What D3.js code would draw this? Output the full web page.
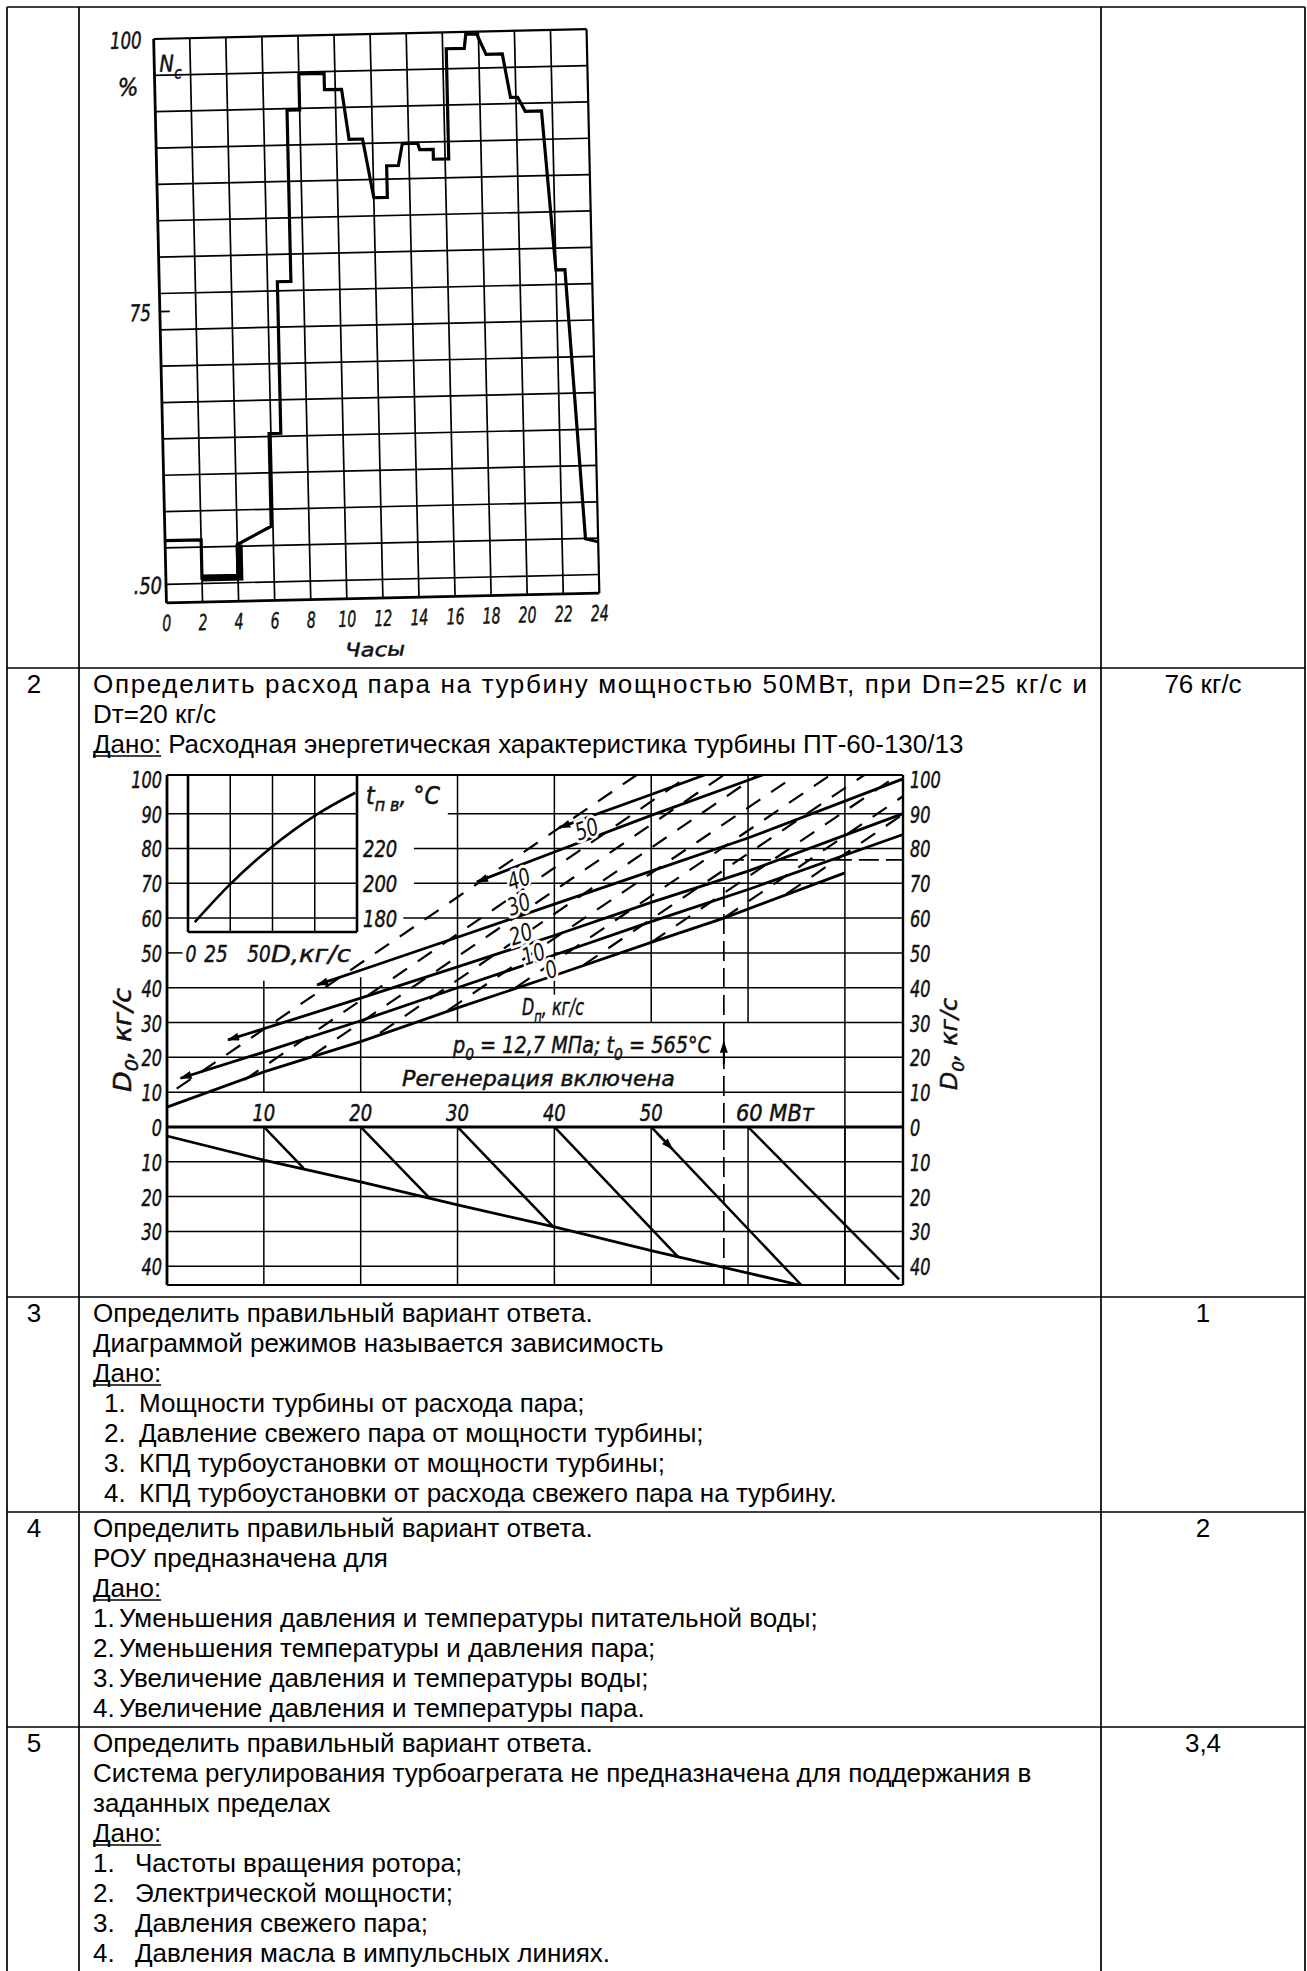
<!DOCTYPE html>
<html>
<head>
<meta charset="utf-8">
<script src="https://cdn.jsdelivr.net/npm/d3@7"></script>
<style>
  body { margin: 0; background: #fff; }
  svg { display: block; }
</style>
</head>
<body>
<div id="page"></div>
<script>
// ---- table content ----
var ROW_NUMBERS = ['2', '3', '4', '5'];
var ANSWERS = ['76 кг/с', '1', '2', '3,4'];
var Q2_LINES = ['Определить расход пара на турбину мощностью 50МВт, при Dп=25 кг/с и', 'Dт=20 кг/с'];
var Q2_GIVEN = 'Расходная энергетическая характеристика турбины ПТ-60-130/13';
var Q3_LINES = ['Определить правильный вариант ответа.', 'Диаграммой режимов называется зависимость'];
var Q3_OPTIONS = ['Мощности турбины от расхода пара;', 'Давление свежего пара от мощности турбины;',
  'КПД турбоустановки от мощности турбины;', 'КПД турбоустановки от расхода свежего пара на турбину.'];
var Q4_LINES = ['Определить правильный вариант ответа.', 'РОУ предназначена для'];
var Q4_OPTIONS = ['Уменьшения давления и температуры питательной воды;', 'Уменьшения температуры и давления пара;',
  'Увеличение давления и температуры воды;', 'Увеличение давления и температуры пара.'];
var Q5_LINES = ['Определить правильный вариант ответа.',
  'Система регулирования турбоагрегата не предназначена для поддержания в', 'заданных пределах'];
var Q5_OPTIONS = ['Частоты вращения ротора;', 'Электрической мощности;', 'Давления свежего пара;',
  'Давления масла в импульсных линиях.'];

// ---- chart 1: daily load graph, Nc % over 24 h ----
var HOUR_TICKS = [0, 2, 4, 6, 8, 10, 12, 14, 16, 18, 20, 22, 24];
var LOAD_HOURS = [0, 2, 2, 4, 4, 5.9, 5.9, 6.55, 6.55, 7.3, 7.3, 8.0, 8.0, 9.4, 9.4, 10.35, 10.7, 11.45,
  12.0, 12.75, 12.75, 13.4, 13.65, 14.5, 14.6, 15.35, 15.35, 16.2, 16.2, 17.2, 17.3, 17.9, 18.4, 19.3,
  19.7, 20.1, 20.5, 21.4, 22.0, 22.5, 23.3, 24];
var LOAD_VALUES = [54, 54, 50.5, 50.5, 53.5, 55.1, 63.6, 63.6, 77.5, 77.5, 93.2, 93.2, 96.5, 96.5, 95, 95,
  90.4, 90.4, 85, 85, 87.9, 87.9, 89.9, 89.9, 89.3, 89.3, 88.4, 88.4, 98.5, 98.5, 99.8, 99.8, 97.9, 97.9,
  93.9, 93.9, 92.6, 92.6, 78, 78, 53.3, 53];
var NIGHT_HOURS = [2, 4.1, 4.1];
var NIGHT_VALUES = [50.5, 50.5, 53.5];

// ---- chart 2: steam flow characteristic PT-60-130/13 ----
var MW_TICKS = [10, 20, 30, 40, 50, 60, 70];
var D_TICKS = [100, 90, 80, 70, 60, 50, 40, 30, 20, 10, 0];
var D_LOW_TICKS = [10, 20, 30, 40];
var DP_NAMES = ['0', '10', '20', '30', '40', '50'];
var DP_LINES = [
  [[0, 5.7], [10, 15.8], [20, 24.5], [30, 34.2], [40, 43.5], [50, 53], [57.5, 60], [70, 73]],
  [[1.4, 14], [10, 21.5], [20, 30.5], [30, 40], [40, 49.4], [50, 59], [60, 68.2], [76, 84]],
  [[6.3, 25], [20, 37], [30, 46], [40, 55], [50, 64.5], [60, 73.5], [76, 90]],
  [[15.5, 40.8], [20, 45], [30, 54.5], [40, 64], [50, 73.5], [60, 83], [76, 100]],
  [[32, 70.4], [40, 79], [50, 89.5], [61.5, 101.1]],
  [[40.5, 86], [50, 95.5], [55.5, 101.1]]
];
var DP_LABEL_AT = [[39.4, 43], [37, 46.9], [35.7, 52.6], [35.5, 61.2], [35.5, 68.4], [42.5, 82.8]];
var DT_LINES = [
  [[1, 11], [48.5, 101.1]],
  [[8, 13.5], [54, 101.1]],
  [[15, 20.5], [57.5, 101.1]],
  [[22, 27], [61, 101.1]],
  [[29, 33.5], [65, 101.1]],
  [[36, 40], [68.5, 101.1]],
  [[43, 46.5], [72, 101.1]],
  [[50, 53], [75.5, 101.1]],
  [[57.5, 60], [76, 95]],
  [[64, 67], [76, 89.8]]
];
var EXTRACT_CURVE = [[0, -2.6], [10, -9.5], [20, -15.8], [30, -22.4], [40, -28.7], [50, -35.5], [65.3, -45.4]];
var EXTRACT_DIAG = [
  [[10, 0], [14.1, -11.8]], [[20, 0], [27.1, -20.4]], [[30, 0], [40, -29]],
  [[40, 0], [52.8, -37.4]], [[50, 0], [65.5, -45.4]], [[60, 0], [75.6, -43.8]]
];
var EXAMPLE_MW = 57.5;
var EXAMPLE_D = 76.7;
// inset: feed water temperature vs flow
var TPV_FLOW = [4, 25, 48.5, 77, 99];
var TPV_TEMP = [177.7, 199.5, 220, 240, 252];
var TPV_TICKS = [220, 200, 180];
var TPV_FLOW_TICKS = [25, 50, 75];

var W = 1307, H = 1971;
var COL_X = [7, 79, 1101, 1305];
var ROW_Y = [7, 668, 1297, 1512, 1727];
var TEXT_FONT = "'Liberation Sans', Arial, sans-serif";
var CHART_FONT = "'DejaVu Sans', 'Liberation Sans', sans-serif";

var svg = d3.select('#page').append('svg')
  .attr('width', W)
  .attr('height', H);

var defs = svg.append('defs');
defs.append('marker')
  .attr('id', 'arrow')
  .attr('viewBox', '0 0 12 8')
  .attr('refX', 11).attr('refY', 4)
  .attr('markerWidth', 13).attr('markerHeight', 8)
  .attr('markerUnits', 'userSpaceOnUse')
  .attr('orient', 'auto-start-reverse')
  .append('path').attr('d', 'M0,0 L12,4 L0,8 z').attr('fill', '#000');

// chart text: italic, squeezed horizontally to look like the drafting font
function label(g, parts, x, y, o) {
  if (typeof parts === 'string') parts = [[parts, 0]];
  var size = o.size || 22;
  var t = g.append('text')
    .attr('font-family', CHART_FONT)
    .attr('font-style', 'italic')
    .attr('font-size', size)
    .attr('fill', '#111');
  var shift = 0;
  parts.forEach(function (p) {
    var target = p[1] * size * 0.3;
    t.append('tspan')
      .attr('dy', target - shift)
      .attr('font-size', p[1] ? size * 0.72 : size)
      .text(p[0]);
    shift = target;
  });
  if (o.halo) {
    t.attr('stroke', '#fff').attr('stroke-width', 6).attr('paint-order', 'stroke');
  } else {
    t.attr('stroke', '#111').attr('stroke-width', 0.5);
  }
  var len = t.node().getComputedTextLength();
  var w = o.w || len * (o.sx || 1);
  var dx = o.anchor === 'end' ? -w : o.anchor === 'middle' ? -w / 2 : 0;
  t.attr('transform', 'translate(' + x + ',' + y + ')' + (o.rotate ? ' rotate(' + o.rotate + ')' : '') +
    ' translate(' + dx + ',0) scale(' + (w / len) + ',1)');
  return t;
}

function seg(g, x1, y1, x2, y2, width, dash) {
  return g.append('line')
    .attr('x1', x1).attr('y1', y1).attr('x2', x2).attr('y2', y2)
    .attr('stroke', '#000')
    .attr('stroke-width', width || 1.5)
    .attr('stroke-dasharray', dash || null);
}

// ================= table =================
var table = svg.append('g');
ROW_Y.forEach(function (y) { seg(table, COL_X[0], y, COL_X[3], y, 1.7); });
COL_X.forEach(function (x) { seg(table, x, ROW_Y[0], x, H, 1.7); });

var TEXT_X = 93, LINE_H = 30;
function txt(x, y, s, anchor) {
  return svg.append('text')
    .attr('x', x).attr('y', y)
    .attr('font-family', TEXT_FONT)
    .attr('font-size', 26)
    .attr('text-anchor', anchor || 'start')
    .attr('fill', '#000')
    .text(s);
}
function given(x, y, rest) {
  var t = txt(x, y, 'Дано:');
  var w = t.node().getComputedTextLength();
  seg(svg, x, y + 3, x + w, y + 3, 1.6);
  if (rest) txt(x + w + 7, y, rest);
}

var firstBase = [693, 1322, 1537, 1752];
ROW_NUMBERS.forEach(function (n, i) {
  txt(34, firstBase[i], n, 'middle');
  txt((COL_X[2] + COL_X[3]) / 2, firstBase[i], ANSWERS[i], 'middle');
});

// row 2
txt(TEXT_X, firstBase[0], Q2_LINES[0]).attr('textLength', 994).attr('lengthAdjust', 'spacing');
txt(TEXT_X, firstBase[0] + LINE_H, Q2_LINES[1]);
given(TEXT_X, firstBase[0] + 2 * LINE_H, Q2_GIVEN);

function question(base, lines, options, numX, optX) {
  lines.forEach(function (s, i) { txt(TEXT_X, base + i * LINE_H, s); });
  var y = base + lines.length * LINE_H;
  given(TEXT_X, y);
  options.forEach(function (s, i) {
    txt(numX, y + (i + 1) * LINE_H, (i + 1) + '.');
    txt(optX, y + (i + 1) * LINE_H, s);
  });
}
question(firstBase[1], Q3_LINES, Q3_OPTIONS, 104, 139);
question(firstBase[2], Q4_LINES, Q4_OPTIONS, 93, 119);
question(firstBase[3], Q5_LINES, Q5_OPTIONS, 93, 135);

// ================= chart 1 =================
var g1 = svg.append('g').attr('transform', 'rotate(-1.3,377,316)');
var x1 = d3.scaleLinear().domain([0, 24]).range([160, 593]);
var y1 = d3.scaleLinear().domain([48.3, 100]).range([598, 34]);

d3.range(16).forEach(function (k) {
  var v = 100 - k * 50 / 15;
  seg(g1, x1(0), y1(v), x1(24), y1(v), k === 0 ? 2.2 : 1.7);
});
HOUR_TICKS.forEach(function (h) {
  seg(g1, x1(h), y1(100), x1(h), y1(48.3), h === 0 ? 2.8 : h === 24 ? 2.2 : 1.7);
});
seg(g1, x1(0), y1(48.3), x1(24), y1(48.3), 2.8);
seg(g1, x1(0), y1(75), x1(0) + 10, y1(75), 1.8);

var loadLine = d3.line()
  .x(function (i) { return x1(LOAD_HOURS[i]); })
  .y(function (i) { return y1(LOAD_VALUES[i]); });
g1.append('path')
  .attr('d', loadLine(d3.range(LOAD_HOURS.length)))
  .attr('fill', 'none').attr('stroke', '#000').attr('stroke-width', 3.2)
  .attr('stroke-linejoin', 'miter');
var nightLine = d3.line()
  .x(function (i) { return x1(NIGHT_HOURS[i]); })
  .y(function (i) { return y1(NIGHT_VALUES[i]); });
g1.append('path')
  .attr('d', nightLine(d3.range(NIGHT_HOURS.length)))
  .attr('fill', 'none').attr('stroke', '#000').attr('stroke-width', 7);

label(g1, '100', x1(0) - 12, y1(100) + 9, { size: 23, sx: 0.72, anchor: 'end' });
label(g1, '%', x1(0) - 37, y1(100) + 56, { size: 24, sx: 0.9 });
label(g1, [['N', 0], ['c', 1]], x1(0) + 5, y1(100) + 33, { size: 23, sx: 0.85 });
label(g1, '75', x1(0) - 9, y1(75) + 9, { size: 23, sx: 0.72, anchor: 'end' });
label(g1, '.50', x1(0) - 4, y1(50) + 9, { size: 23, sx: 0.78, anchor: 'end' });
HOUR_TICKS.forEach(function (h) {
  label(g1, String(h), x1(h), y1(48.3) + 28, { size: 22, sx: 0.64, anchor: 'middle' });
});
label(g1, 'Часы', x1(11.5), y1(48.3) + 58, { size: 19, w: 60, anchor: 'middle' });

// ================= chart 2 =================
var g2 = svg.append('g');
var x2 = d3.scaleLinear().domain([0, 76]).range([167, 903]);
var y2 = d3.scaleLinear().domain([-45.4, 101.1]).range([1285, 775]);
var xi = d3.scaleLinear().domain([0, 100]).range([188, 357]);
var yi = d3.scaleLinear().domain([180, 260]).range([y2(60), y2(100)]);
var TOP = 101.1, BOT = -45.4, RIGHT = 76;

// horizontal grid
[10, 20, 30, 40].forEach(function (v) { seg(g2, x2(0), y2(v), x2(RIGHT), y2(v), 1.5); });
D_LOW_TICKS.forEach(function (v) { seg(g2, x2(0), y2(-v), x2(RIGHT), y2(-v), 1.5); });
[[90, 29], [80, 25.5], [70, 25.5], [60, 24.4]].forEach(function (d) {
  seg(g2, x2(0), y2(d[0]), xi(100), y2(d[0]), 1.5);
  seg(g2, x2(d[1]), y2(d[0]), x2(RIGHT), y2(d[0]), 1.5);
});
seg(g2, x2(0), y2(50), x2(1.6), y2(50), 1.5);
seg(g2, x2(40), y2(50), x2(RIGHT), y2(50), 1.5);
// vertical grid
[[10, 10, 42], [20, 10, 43], [30, 30, TOP], [40, 38, TOP], [50, 30, TOP], [60, 30, TOP], [70, BOT, TOP]]
  .forEach(function (d) { seg(g2, x2(d[0]), y2(d[1]), x2(d[0]), y2(d[2]), 1.5); });
MW_TICKS.forEach(function (m) { seg(g2, x2(m), y2(0), x2(m), y2(BOT), 1.5); });
// frame
seg(g2, x2(0), y2(TOP), x2(RIGHT), y2(TOP), 2);
seg(g2, x2(0), y2(BOT), x2(RIGHT), y2(BOT), 2);
seg(g2, x2(0), y2(0), x2(RIGHT), y2(0), 3);
seg(g2, x2(0), y2(TOP), x2(0), y2(BOT), 2.8);
seg(g2, x2(RIGHT), y2(TOP), x2(RIGHT), y2(BOT), 2.4);

// inset
seg(g2, xi(0), y2(TOP), xi(0), yi(172), 2.6);
seg(g2, xi(100), y2(TOP), xi(100), yi(172), 2.6);
seg(g2, xi(0), yi(172), xi(100), yi(172), 2.6);
TPV_FLOW_TICKS.forEach(function (d) { seg(g2, xi(d), y2(TOP), xi(d), yi(172), 1.5); });
var tpvLine = d3.line()
  .x(function (i) { return xi(TPV_FLOW[i]); })
  .y(function (i) { return yi(TPV_TEMP[i]); })
  .curve(d3.curveMonotoneX);
g2.append('path').attr('d', tpvLine(d3.range(TPV_FLOW.length)))
  .attr('fill', 'none').attr('stroke', '#000').attr('stroke-width', 2.6);

// dashed family
DT_LINES.forEach(function (l) {
  seg(g2, x2(l[0][0]), y2(l[0][1]), x2(l[1][0]), y2(l[1][1]), 2.2, '17,13');
});

// solid D_p family
var dpLine = d3.line()
  .x(function (d) { return x2(d[0]); })
  .y(function (d) { return y2(d[1]); });
DP_LINES.forEach(function (l, i) {
  g2.append('path').attr('d', dpLine(l))
    .attr('fill', 'none').attr('stroke', '#000').attr('stroke-width', 2.8)
    .attr('marker-start', i > 0 ? 'url(#arrow)' : null);
});
DP_NAMES.forEach(function (n, i) {
  var p = DP_LABEL_AT[i];
  label(g2, n, x2(p[0]), y2(p[1]) + 2, { size: 24, sx: 0.75, rotate: -19, halo: true });
});

// lower part: extraction curve and diagonals
g2.append('path').attr('d', dpLine(EXTRACT_CURVE))
  .attr('fill', 'none').attr('stroke', '#000').attr('stroke-width', 2.8);
EXTRACT_DIAG.forEach(function (l) {
  seg(g2, x2(l[0][0]), y2(l[0][1]), x2(l[1][0]), y2(l[1][1]), 2.5);
});
seg(g2, x2(50.6), y2(-1.8), x2(52.2), y2(-6.4), 2).attr('marker-end', 'url(#arrow)');

// worked example
seg(g2, x2(EXAMPLE_MW), y2(EXAMPLE_D), x2(EXAMPLE_MW), y2(BOT), 1.7, '20,7');
seg(g2, x2(EXAMPLE_MW), y2(EXAMPLE_D), x2(RIGHT), y2(EXAMPLE_D), 1.7, '20,7');
seg(g2, x2(EXAMPLE_MW), y2(18), x2(EXAMPLE_MW), y2(24.5), 2).attr('marker-end', 'url(#arrow)');

// labels
D_TICKS.forEach(function (v) {
  label(g2, String(v), x2(0) - 5, y2(v) + 9, { size: 23, sx: 0.7, anchor: 'end' });
  label(g2, String(v), x2(RIGHT) + 7, y2(v) + 9, { size: 23, sx: 0.7 });
});
D_LOW_TICKS.forEach(function (v) {
  label(g2, String(v), x2(0) - 5, y2(-v) + 9, { size: 23, sx: 0.7, anchor: 'end' });
  label(g2, String(v), x2(RIGHT) + 7, y2(-v) + 9, { size: 23, sx: 0.7 });
});
label(g2, [['D', 0], ['0', 1], [', кг/с', 0]], 131, 1040, { size: 24, w: 104, anchor: 'middle', rotate: -90 });
label(g2, [['D', 0], ['0', 1], [', кг/с', 0]], 957, 1044, { size: 23, w: 92, anchor: 'middle', rotate: -90 });
label(g2, [['t', 0], ['п в', 1], [', °C', 0]], 366, 804, { size: 24, w: 74 });
TPV_TICKS.forEach(function (t) {
  label(g2, String(t), 363, yi(t) + 9, { size: 23, sx: 0.78 });
});
label(g2, '0', 191, 962, { size: 23, sx: 0.75, anchor: 'middle' });
label(g2, '25', 216, 962, { size: 23, sx: 0.8, anchor: 'middle' });
label(g2, '50', 259, 962, { size: 23, sx: 0.8, anchor: 'middle' });
label(g2, 'D,кг/с', 271, 962, { size: 23, w: 80 });
label(g2, [['D', 0], ['п', 1], [', кг/с', 0]], 522, 1015, { size: 23, w: 62 });
label(g2, [['p', 0], ['0', 1], [' = 12,7 МПа; t', 0], ['0', 1], [' = 565°C', 0]], 453, 1053, { size: 23, w: 258 });
label(g2, 'Регенерация включена', 402, 1086, { size: 22, w: 273 });
[10, 20, 30, 40, 50].forEach(function (m) {
  label(g2, String(m), x2(m), 1121, { size: 23, sx: 0.78, anchor: 'middle' });
});
label(g2, '60  МВт', 736, 1121, { size: 23, w: 78 });
</script>
</body>
</html>
